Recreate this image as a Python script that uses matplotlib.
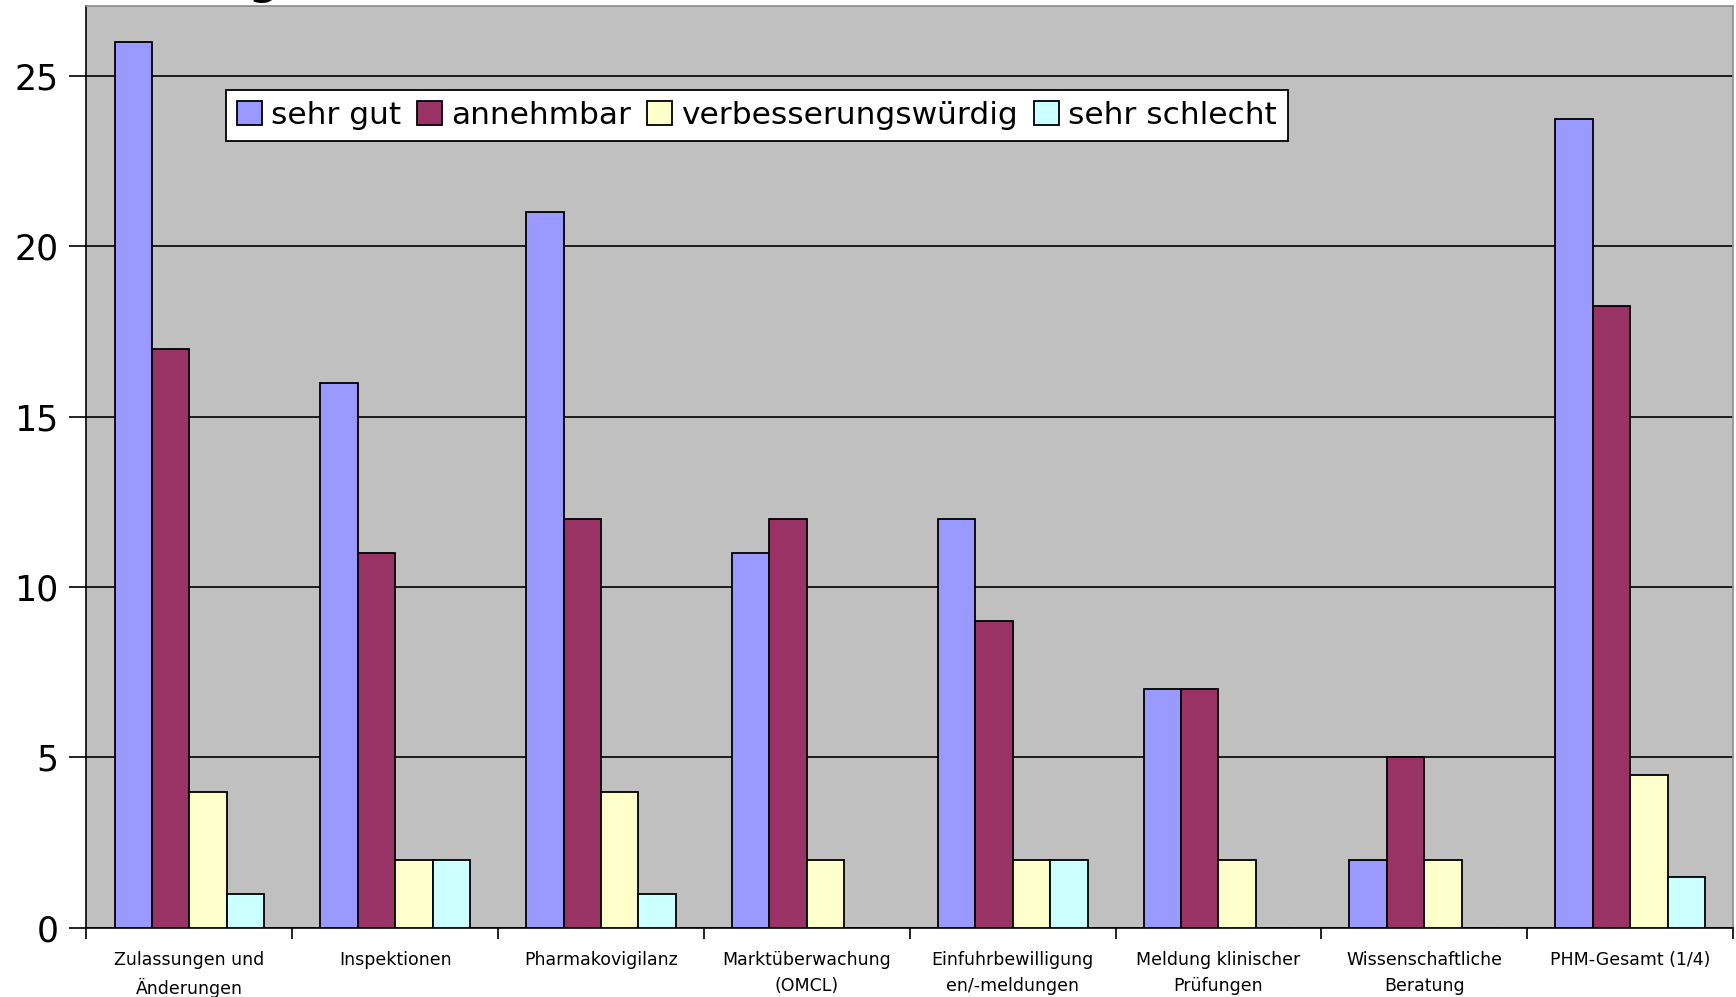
import numpy as np
import matplotlib
matplotlib.use("Agg")
import matplotlib.pyplot as plt

# data
categories = ["Zulassungen und\nÄnderungen", "Inspektionen", "Pharmakovigilanz",
              "Marktüberwachung\n(OMCL)", "Einfuhrbewilligung\nen/-meldungen",
              "Meldung klinischer\nPrüfungen", "Wissenschaftliche\nBeratung",
              "PHM-Gesamt (1/4)"]
sehr_gut = [26, 16, 21, 11, 12, 7, 2, 23.75]
annehmbar = [17, 11, 12, 12, 9, 7, 5, 18.25]
verbesserungswuerdig = [4, 2, 4, 2, 2, 2, 2, 4.5]
sehr_schlecht = [1, 2, 1, 0, 2, 0, 0, 1.5]
series_names = ["sehr gut", "annehmbar", "verbesserungswürdig", "sehr schlecht"]
series_colors = ["#9999FF", "#993366", "#FFFFCC", "#CCFFFF"]

plt.rcParams['font.family'] = ['DejaVu Sans']

fig = plt.figure(figsize=(17.36, 9.97), dpi=100)
ax = fig.add_axes([0.0498, 0.0694, 0.9485, 0.9246])
ax.set_facecolor("#C0C0C0")

x = np.arange(len(categories))
width = 1 / 5.5
all_series = [sehr_gut, annehmbar, verbesserungswuerdig, sehr_schlecht]
for i, (vals, name, col) in enumerate(zip(all_series, series_names, series_colors)):
    ax.bar(x + (i - 1.5) * width, vals, width, color=col, edgecolor="black",
           linewidth=1.3, label=name, zorder=3)

ax.set_xlim(-0.5, len(categories) - 0.5)
ax.set_ylim(0, 27.06)
ax.set_yticks([0, 5, 10, 15, 20, 25])
ax.yaxis.grid(True, color="black", linewidth=1.2, zorder=1)
ax.set_axisbelow(True)

ax.set_xticks(x)
ax.set_xticklabels(categories, fontsize=12.5, linespacing=1.55)
ax.tick_params(axis="x", which="major", length=0, pad=17)
ax.set_xticks(np.arange(-0.5, len(categories)), minor=True)
ax.tick_params(axis="x", which="minor", length=8, width=1.2, color="black")
ax.tick_params(axis="y", length=12, width=1.2, labelsize=25, pad=8)

for s in ["left", "bottom"]:
    ax.spines[s].set_color("black")
    ax.spines[s].set_linewidth(1.2)
for s in ["top", "right"]:
    ax.spines[s].set_color("#8C8C8C")
    ax.spines[s].set_linewidth(1.2)

leg = ax.legend(loc="upper left", bbox_to_anchor=(226 / 1736, 1 - 90 / 997),
                bbox_transform=fig.transFigure, ncol=4, fontsize=22.5,
                handlelength=0.8, handleheight=0.8, handletextpad=0.3,
                columnspacing=0.5, borderpad=0.35, borderaxespad=0,
                fancybox=False, framealpha=1, edgecolor="black")
leg.get_frame().set_linewidth(1.3)

# title cut off at top of the image
fig.text(263 / 1736, 1 + 6 / 997, "g", fontsize=30, fontweight="bold",
         ha="center", va="baseline")

fig.savefig("out.png", dpi=100)
